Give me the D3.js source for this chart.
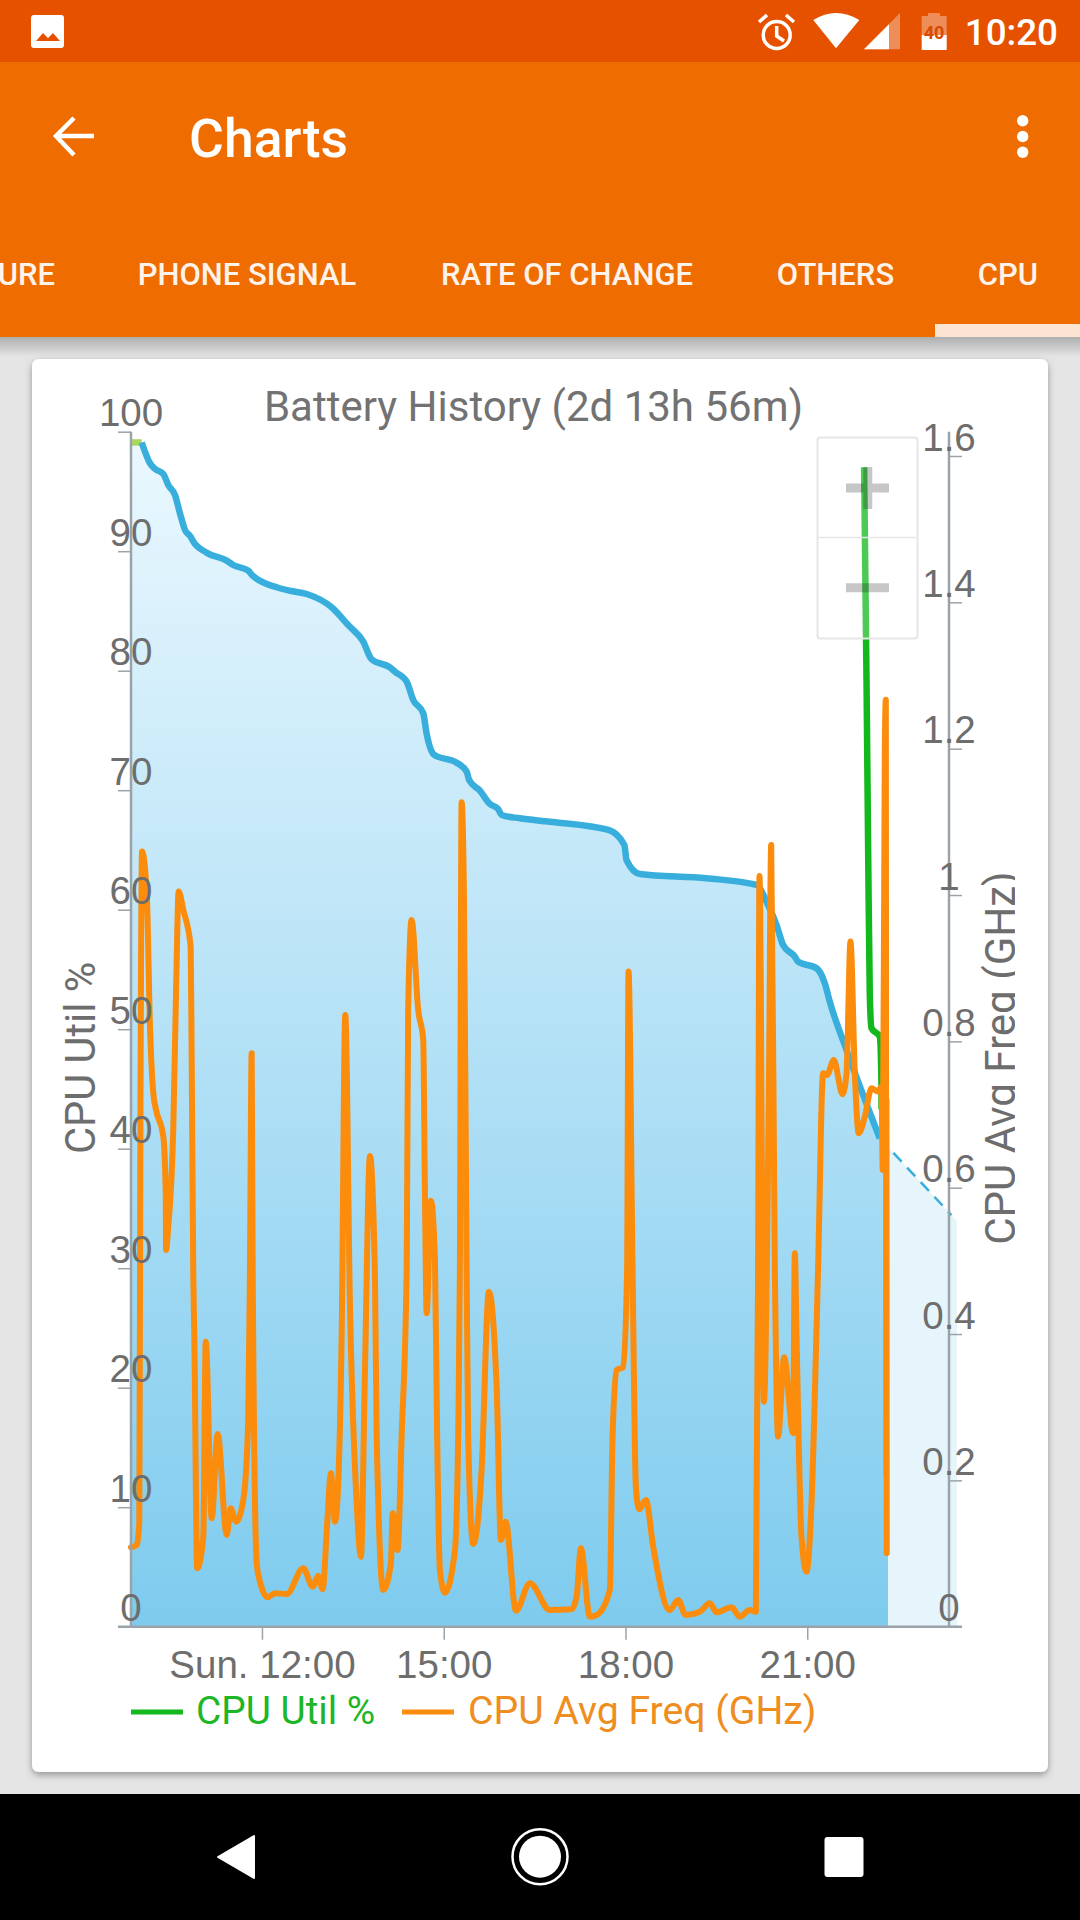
<!DOCTYPE html>
<html>
<head>
<meta charset="utf-8">
<script src="https://cdn.jsdelivr.net/npm/d3@7"></script>
<style>
  html, body { margin: 0; padding: 0; background: #e5e5e5; }
  svg { display: block; font-family: Roboto, sans-serif; }
  .axis text { font-size: 38.5px; fill: #6d6d6d; text-anchor: middle; }
  .axis path, .axis line { stroke: #9aa3a9; }
  .axis path { stroke-width: 2.5; }
  .axis line { stroke-width: 1.5; }
</style>
</head>
<body>
<div id="app"></div>
<script>
// Values are [minutes since midnight, value]
var tabs = ["URE", "PHONE SIGNAL", "RATE OF CHANGE", "OTHERS", "CPU"];

var timeTicks = [720, 900, 1080, 1260],
    timeLabels = ["Sun. 12:00", "15:00", "18:00", "21:00"],
    utilTicks = [0, 10, 20, 30, 40, 50, 60, 70, 80, 90, 100],
    freqTicks = [0, 0.2, 0.4, 0.6, 0.8, 1, 1.2, 1.4, 1.6];

var chargedLevel = [[590.3, 99.1], [600.9, 99.1]];

var batteryLevel = [
  [600.9, 99.1], [609.1, 97.36], [614.1, 96.88], [622.3, 96.46], [627.2, 95.54], [633.9, 94.7],
  [638.8, 93.17], [643.8, 91.77], [649.4, 91.21], [651.4, 90.88], [665.3, 89.87], [685.1, 89.21],
  [691.6, 88.84], [706.4, 88.37], [710.8, 87.95], [734.6, 86.98], [747.7, 86.69], [764.3, 86.42],
  [789, 85.31], [805.4, 83.82], [820.3, 82.43], [828.6, 80.95], [846.7, 80.28], [851.7, 79.92],
  [863.3, 79.08], [869.8, 77.55], [879.7, 76.44], [883, 74.76], [890.6, 72.95], [912.8, 72.3],
  [922.7, 71.55], [925.2, 70.85], [935.8, 69.96], [945.7, 68.85], [953.9, 68.43], [957.3, 67.92],
  [975.4, 67.65], [1005.1, 67.36], [1063.1, 66.67], [1078.9, 65.41], [1081, 64.16], [1094.2, 62.99],
  [1160.3, 62.63], [1209.8, 62.07], [1219.7, 60.67], [1229.6, 58.72], [1236.1, 57.05], [1247.7, 56.07],
  [1250.9, 55.65], [1269.2, 55.1], [1277.4, 53.84], [1282.3, 52.3], [1298.9, 48.26], [1331.8, 40.87]
];

var batteryProjection = [[1331.8, 40.87], [1340, 40.13], [1402.8, 34.45], [1408.3, 33.97]];

var cpuUtil = [
  [1316.3, 97.02], [1318.7, 79.22], [1320.4, 64.16], [1321.9, 53.03], [1323.6, 50.1],
  [1331.8, 49.37], [1333.5, 45.5], [1333.6, 43.3]
];

var cpuFreq = [
  [590.3, 0.1085], [596, 0.1117], [598.5, 0.1413], [599.7, 0.72], [601.2, 1.0593], [605.9, 1.0025],
  [609.1, 0.8201], [612.4, 0.7291], [615.1, 0.7063], [622.3, 0.6698], [624.7, 0.5924], [625, 0.5149],
  [627.2, 0.5467], [632.2, 0.6834], [634.9, 0.8658], [637.5, 1.0047], [642.1, 0.9796], [649.4, 0.9295],
  [650.4, 0.7746], [652, 0.4784], [653, 0.3964], [655.9, 0.0798], [661.9, 0.123], [664.3, 0.3896],
  [670.2, 0.1482], [676.1, 0.2634], [685.1, 0.1253], [689, 0.1618], [694.3, 0.1435], [701.5, 0.1732],
  [706.4, 0.2825], [708.1, 0.4876], [709.8, 0.7838], [710.8, 0.4876], [714.8, 0.0867], [718, 0.0615],
  [725.6, 0.0402], [732.9, 0.0457], [744.5, 0.0447], [760.9, 0.0798], [770.2, 0.0547], [775.7, 0.0693],
  [780.1, 0.0511], [784.6, 0.1413], [788.3, 0.2097], [792.3, 0.1435], [795.5, 0.196], [798.9, 0.3964],
  [802.5, 0.8361], [807.1, 0.442], [813.8, 0.1687], [818, 0.0957], [822, 0.3509], [826.9, 0.6434],
  [831.9, 0.4784], [833.6, 0.2597], [840.1, 0.0502], [847.7, 0.0867], [849.4, 0.155], [854.3, 0.1048],
  [858.3, 0.2597], [863.3, 0.4876], [864.8, 0.843], [868.2, 0.966], [874.7, 0.843], [879.7, 0.8019],
  [881.4, 0.5924], [883.1, 0.4284], [887.3, 0.5823], [891.3, 0.5012], [893.5, 0.2597], [896.2, 0.0775],
  [901.2, 0.0465], [911.1, 0.1048], [914.3, 0.2597], [916, 0.4876], [917.7, 1.1268], [920, 1.0029],
  [922.7, 0.4876], [924.2, 0.2597], [929.2, 0.113], [937.5, 0.2142], [944.7, 0.4579], [952.4, 0.3281],
  [956.6, 0.1185], [961.3, 0.1435], [971.5, 0.0219], [985.3, 0.0593], [1005.1, 0.0228], [1026.6, 0.0238],
  [1031.6, 0.041], [1035.8, 0.1072], [1044.7, 0.0137], [1051.4, 0.016], [1064.5, 0.0502], [1067.2, 0.2597],
  [1071.2, 0.3509], [1077.7, 0.3546], [1081.6, 0.4876], [1083, 0.8953], [1087, 0.4876], [1090.3, 0.1914],
  [1093.5, 0.1605], [1100.2, 0.1732], [1107.4, 0.1094], [1123.9, 0.0228], [1132.1, 0.0365], [1139.5, 0.016],
  [1153.6, 0.0205], [1163.5, 0.032], [1170.2, 0.0197], [1185, 0.0265], [1193.2, 0.0137], [1203.1, 0.0228],
  [1209.1, 0.0205], [1211.3, 0.4876], [1212.7, 1.0261], [1217, 0.3075], [1221.9, 0.72], [1224.3, 1.0685],
  [1227.9, 0.4876], [1231.1, 0.2597], [1237.1, 0.3682], [1246, 0.2644], [1247.7, 0.5104], [1249.4, 0.3964],
  [1254.3, 0.123], [1259.3, 0.0752], [1264.2, 0.1687], [1270.7, 0.4876], [1275.7, 0.7564], [1279.6, 0.7541],
  [1286.3, 0.7746], [1294.9, 0.7277], [1298.9, 0.7564], [1302.8, 0.9363], [1307.1, 0.7564], [1311, 0.6744],
  [1317, 0.6971], [1323.6, 0.7359], [1330.1, 0.7313], [1333.5, 0.7381], [1334.8, 0.6242], [1336.8, 1.1983],
  [1337.8, 1.2667], [1338.3, 0.2074], [1338.5, 0.72], [1338.7, 0.1007]
];

var green = "#12b81c", orange = "#fb8c0c", blue = "#37aedb";

var svg = d3.select("#app").append("svg")
  .attr("width", 1080)
  .attr("height", 1920);

addDefs();
addAppChrome();
addChart();
addNavBar();

function addDefs() {
  var defs = svg.append("defs");

  var fill = defs.append("linearGradient")
    .attr("id", "battery-fill")
    .attr("gradientUnits", "userSpaceOnUse")
    .attr("x1", 0).attr("y1", 432)
    .attr("x2", 0).attr("y2", 1627);
  fill.append("stop").attr("offset", "0%").attr("stop-color", "#ebf8fe");
  fill.append("stop").attr("offset", "100%").attr("stop-color", "#7ecbee");

  var shade = defs.append("linearGradient")
    .attr("id", "bar-shadow")
    .attr("x1", 0).attr("y1", 0)
    .attr("x2", 0).attr("y2", 1);
  shade.append("stop").attr("offset", "0%").attr("stop-color", "#000").attr("stop-opacity", 0.24);
  shade.append("stop").attr("offset", "100%").attr("stop-color", "#000").attr("stop-opacity", 0);

  defs.append("filter")
    .attr("id", "card-shadow")
    .attr("x", "-5%").attr("y", "-5%")
    .attr("width", "110%").attr("height", "110%")
    .append("feDropShadow")
      .attr("dx", 0).attr("dy", 3)
      .attr("stdDeviation", 3.5)
      .attr("flood-color", "#000")
      .attr("flood-opacity", 0.35);

  // Right axis title is cut at its baseline in the app
  defs.append("clipPath")
    .attr("id", "title-clip")
    .append("rect")
      .attr("x", 960).attr("y", 800)
      .attr("width", 55).attr("height", 500);
}

function addAppChrome() {
  svg.append("rect").attr("width", 1080).attr("height", 62).attr("fill", "#e65100");
  svg.append("rect").attr("y", 62).attr("width", 1080).attr("height", 275).attr("fill", "#ef6c00");
  svg.append("rect").attr("y", 337).attr("width", 1080).attr("height", 20).attr("fill", "url(#bar-shadow)");
  svg.append("rect").attr("x", 935).attr("y", 324).attr("width", 145).attr("height", 13).attr("fill", "#fde4d2");

  // Status bar, left
  svg.append("rect").attr("x", 31).attr("y", 15).attr("width", 33).attr("height", 33).attr("rx", 3).attr("fill", "#fff");
  svg.append("path").attr("d", "M36,41L43,33L48,38L53,33L60,41Z").attr("fill", "#e65100");

  // Status bar, right
  svg.append("circle").attr("cx", 776.7).attr("cy", 35).attr("r", 13.5)
    .attr("fill", "none").attr("stroke", "#fff").attr("stroke-width", 3.5);
  svg.append("path").attr("d", "M776.7,26V36L784,41M759,22L767,15M794,22L786,15")
    .attr("fill", "none").attr("stroke", "#fff").attr("stroke-width", 3.5);
  svg.append("path").attr("d", "M813.3,20Q836,6 859.3,20L836,48.3Z").attr("fill", "#fff");
  svg.append("path").attr("d", "M864,49.3L900,13V49.3Z").attr("fill", "#fff").attr("opacity", 0.35);
  svg.append("path").attr("d", "M864,49.3L889,24.3V49.3Z").attr("fill", "#fff");
  svg.append("path").attr("d", "M928,13H940V16H946.7V35H921.7V16H928Z").attr("fill", "#fff").attr("opacity", 0.35);
  svg.append("rect").attr("x", 921.7).attr("y", 35).attr("width", 25).attr("height", 15).attr("fill", "#fff");
  svg.append("text").attr("x", 934).attr("y", 39)
    .attr("text-anchor", "middle").attr("font-size", 18).attr("font-weight", 700)
    .attr("fill", "#d84a00").text("40");
  svg.append("text").attr("x", 1058).attr("y", 45)
    .attr("text-anchor", "end").attr("font-size", 36.75).attr("font-weight", 500)
    .attr("fill", "#fff").text("10:20");

  // Toolbar
  svg.append("path").attr("d", "M94,136H57M74,118L56,136L74,155")
    .attr("fill", "none").attr("stroke", "#fff").attr("stroke-width", 4.5);
  svg.append("text").attr("x", 189).attr("y", 156.5)
    .attr("font-size", 53.5).attr("font-weight", 500)
    .attr("fill", "#fff").text("Charts");
  [120.7, 136.5, 152.3].forEach(function(y) {
    svg.append("circle").attr("cx", 1022.7).attr("cy", y).attr("r", 5.7).attr("fill", "#fff");
  });

  // Tabs
  var tabCenters = [null, 247, 567, 835.5, 1008];
  tabs.forEach(function(tab, i) {
    svg.append("text")
      .attr("x", i == 0 ? 55 : tabCenters[i])
      .attr("y", 285)
      .attr("text-anchor", i == 0 ? "end" : "middle")
      .attr("font-size", 31).attr("font-weight", 500)
      .attr("fill", "#fdf3ea").text(tab);
  });

  // Card
  svg.append("rect")
    .attr("x", 32).attr("y", 359)
    .attr("width", 1016).attr("height", 1413)
    .attr("rx", 7)
    .attr("fill", "#fff")
    .attr("filter", "url(#card-shadow)");
}

function addChart() {
  // Scales
  var x = d3.scaleLinear().domain([590.3, 1408.3]).range([131, 957]),
      yUtil = d3.scaleLinear().domain([0, 100]).range([1626.7, 431.7]),
      yFreq = d3.scaleLinear().domain([0, 1.6]).range([1626.7, 456]);

  var utilLine = d3.line()
    .x(function(d) { return x(d[0]); })
    .y(function(d) { return yUtil(d[1]); })
    .curve(d3.curveMonotoneX);

  var utilArea = d3.area()
    .x(function(d) { return x(d[0]); })
    .y0(yUtil(0))
    .y1(function(d) { return yUtil(d[1]); })
    .curve(d3.curveMonotoneX);

  var freqLine = d3.line()
    .x(function(d) { return x(d[0]); })
    .y(function(d) { return yFreq(d[1]); })
    .curve(d3.curveMonotoneX);

  // Battery fill, solid part then the projected part
  svg.append("path")
    .attr("d", utilArea(chargedLevel.concat(batteryLevel.slice(1), [batteryProjection[1]])))
    .attr("fill", "url(#battery-fill)");

  svg.append("path")
    .attr("d", d3.area()
      .x(function(d) { return x(d[0]); })
      .y0(yUtil(0))
      .y1(function(d) { return yUtil(d[1]); })(batteryProjection.slice(1)))
    .attr("fill", "#e6f4fb");

  // Axes
  svg.append("g")
    .attr("class", "axis")
    .attr("transform", "translate(131,0)")
    .call(d3.axisLeft(yUtil).tickValues(utilTicks).tickSize(13).tickSizeOuter(0).tickFormat(d3.format("d")))
    .call(centerLabels);

  svg.append("g")
    .attr("class", "axis")
    .attr("transform", "translate(949,0)")
    .call(d3.axisRight(yFreq).tickValues(freqTicks).tickSize(13).tickSizeOuter(0).tickFormat(function(d) { return d; }))
    .call(centerLabels);

  var xAxis = svg.append("g")
    .attr("class", "axis")
    .attr("transform", "translate(0,1626.7)")
    .call(d3.axisBottom(x).tickValues(timeTicks).tickSize(13).tickSizeOuter(0)
      .tickFormat(function(d, i) { return timeLabels[i]; }));
  xAxis.select(".domain").attr("d", "M118,0H962");
  xAxis.selectAll("text").attr("y", 51.6).attr("dy", 0);

  // Series
  svg.append("path")
    .attr("d", d3.line()
      .x(function(d) { return x(d[0]); })
      .y(function(d) { return yUtil(d[1]); })(batteryProjection.slice(0, 3)))
    .attr("fill", "none")
    .attr("stroke", blue)
    .attr("stroke-width", 2.5)
    .attr("stroke-dasharray", "12,8");

  svg.append("path")
    .attr("d", utilLine(chargedLevel))
    .attr("fill", "none")
    .attr("stroke", "#a9d85c")
    .attr("stroke-width", 6.5);

  svg.append("path")
    .attr("d", utilLine(batteryLevel))
    .attr("fill", "none")
    .attr("stroke", blue)
    .attr("stroke-width", 6.5)
    .attr("stroke-linejoin", "round");

  svg.append("path")
    .attr("d", utilLine(cpuUtil))
    .attr("fill", "none")
    .attr("stroke", green)
    .attr("stroke-width", 6.5)
    .attr("stroke-linejoin", "round");

  svg.append("path")
    .attr("d", freqLine(cpuFreq))
    .attr("fill", "none")
    .attr("stroke", orange)
    .attr("stroke-width", 6)
    .attr("stroke-linejoin", "round")
    .attr("stroke-linecap", "round");

  // Tick labels sit above the series
  svg.selectAll(".axis").raise();

  // Zoom control
  var zoom = svg.append("g");
  zoom.append("rect")
    .attr("x", 817.5).attr("y", 437.5)
    .attr("width", 100).attr("height", 201)
    .attr("rx", 3)
    .attr("fill", "#fff").attr("fill-opacity", 0.25)
    .attr("stroke", "#e6e6e6").attr("stroke-width", 2);
  zoom.append("path").attr("d", "M817.5,537.5H917.5").attr("stroke", "#e6e6e6").attr("stroke-width", 1.5);
  zoom.append("path")
    .attr("d", "M846,488H889M867.8,467V509M846,587.8H889")
    .attr("fill", "none")
    .attr("stroke", "#000").attr("stroke-opacity", 0.22)
    .attr("stroke-width", 9);

  // Titles
  svg.append("text")
    .attr("x", 533.5).attr("y", 421)
    .attr("text-anchor", "middle")
    .attr("font-size", 42)
    .attr("fill", "#727272")
    .text("Battery History (2d 13h 56m)");

  svg.append("text")
    .attr("transform", "translate(95,1058) rotate(-90)")
    .attr("text-anchor", "middle")
    .attr("font-size", 41.6)
    .attr("fill", "#6d6d6d")
    .text("CPU Util %");

  svg.append("g")
    .attr("clip-path", "url(#title-clip)")
    .append("text")
      .attr("transform", "translate(1014.5,1058) rotate(-90)")
      .attr("text-anchor", "middle")
      .attr("font-size", 42)
      .attr("fill", "#6d6d6d")
      .text("CPU Avg Freq (GHz)");

  // Legend
  svg.append("path").attr("d", "M131,1712H183").attr("stroke", green).attr("stroke-width", 5);
  svg.append("text").attr("x", 196).attr("y", 1723.5)
    .attr("font-size", 38.8).attr("fill", "#1db626").text("CPU Util %");
  svg.append("path").attr("d", "M402,1712H454").attr("stroke", orange).attr("stroke-width", 5);
  svg.append("text").attr("x", 468).attr("y", 1723.5)
    .attr("font-size", 39.2).attr("fill", "#ee8d20").text("CPU Avg Freq (GHz)");
}

function centerLabels(axis) {
  axis.select(".domain").attr("d", "M0,431.7V1626.7");
  axis.selectAll("text")
    .attr("x", 0)
    .attr("dy", 0)
    .attr("y", -6);
}

function addNavBar() {
  svg.append("rect").attr("y", 1794).attr("width", 1080).attr("height", 126).attr("fill", "#000");
  svg.append("path").attr("d", "M254,1836V1878L218,1857Z").attr("fill", "#fff")
    .attr("stroke", "#fff").attr("stroke-width", 2).attr("stroke-linejoin", "round");
  svg.append("circle").attr("cx", 540).attr("cy", 1856.7).attr("r", 27.5)
    .attr("fill", "none").attr("stroke", "#fff").attr("stroke-width", 2.5);
  svg.append("circle").attr("cx", 540).attr("cy", 1856.7).attr("r", 21).attr("fill", "#fff");
  svg.append("rect").attr("x", 824.5).attr("y", 1837).attr("width", 39).attr("height", 40)
    .attr("rx", 3).attr("fill", "#fff");
}
</script>
</body>
</html>
